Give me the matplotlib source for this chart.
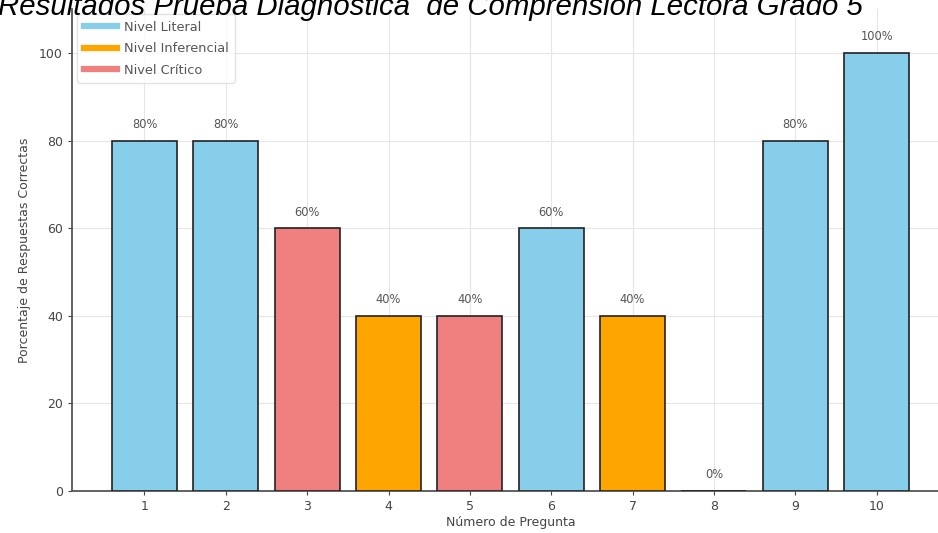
import matplotlib
matplotlib.use("Agg")
import matplotlib.pyplot as plt
from matplotlib.lines import Line2D

preguntas = [1, 2, 3, 4, 5, 6, 7, 8, 9, 10]
porcentajes = [80, 80, 60, 40, 40, 60, 40, 0, 80, 100]
niveles = ["Literal", "Literal", "Crítico", "Inferencial", "Crítico",
           "Literal", "Inferencial", "Literal", "Literal", "Literal"]

colores = {"Literal": "#87CEEB", "Inferencial": "#FFA500", "Crítico": "#F08080"}
leyenda = ["Nivel Literal", "Nivel Inferencial", "Nivel Crítico"]

gris = "#444444"

fig = plt.figure(figsize=(9.38, 5.33), dpi=100)
ax = fig.add_axes([0.0768, 0.0788, 0.935, 0.904])

ax.bar(preguntas, porcentajes, width=0.8,
       color=[colores[n] for n in niveles], edgecolor="#222222", linewidth=1.2,
       zorder=3)

for x, v in zip(preguntas, porcentajes):
    ax.text(x, v + 2.2, f"{v}%", ha="center", va="bottom", fontsize=8.3,
            color="#555555", zorder=4)

ax.set_xlim(0.11, 10.89)
ax.set_ylim(0, 110)
ax.set_xticks(preguntas)
ax.set_yticks([0, 20, 40, 60, 80, 100])
ax.tick_params(labelsize=9, colors=gris, length=3)
ax.set_xlabel("Número de Pregunta", fontsize=9, color=gris, labelpad=2)
ax.set_ylabel("Porcentaje de Respuestas Correctas", fontsize=9, color=gris,
              labelpad=6)
ax.grid(True, color="#e6e6e6", linewidth=0.8, zorder=0)
for s in ["top", "right"]:
    ax.spines[s].set_visible(False)
for s in ["left", "bottom"]:
    ax.spines[s].set_color("#555555")
    ax.spines[s].set_linewidth(1.3)

handles = [Line2D([0], [0], color=colores[k], lw=4.5)
           for k in ["Literal", "Inferencial", "Crítico"]]
ax.legend(handles, leyenda, loc="upper left", fontsize=9.3, frameon=True,
          edgecolor="#dddddd", labelcolor="#555555", handlelength=2.55,
          labelspacing=0.65, borderaxespad=0.4, borderpad=0.5,
          handletextpad=0.55)

fig.text(-0.002, 0.972,
         "Resultados Prueba Diagnóstica  de Comprensión Lectora Grado 5",
         fontsize=21.2, style="italic", family="Liberation Sans",
         ha="left", va="baseline", color="black")

fig.savefig("out.png", dpi=100)
